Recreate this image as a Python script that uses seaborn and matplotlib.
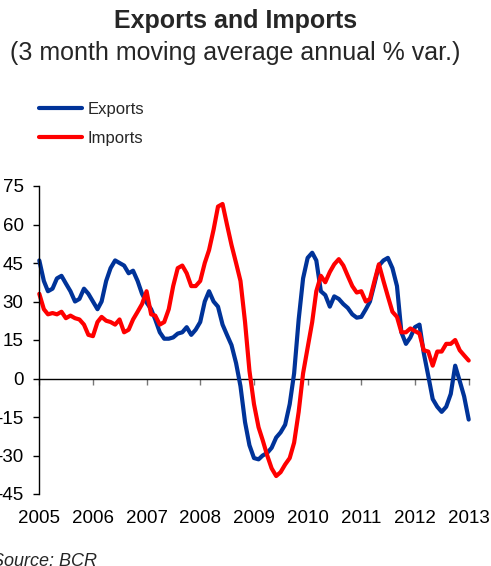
import pandas as pd
import numpy as np
import matplotlib.pyplot as plt
import seaborn as sns

# monthly values, Jan 2005 - Jan 2013
exports = [46, 38, 34, 35, 39, 40, 37, 34, 30, 31, 35, 33,
           30, 27, 30, 38, 43, 46, 45, 44, 41, 42, 38, 33,
           29.6, 27, 23, 18, 15.5, 15.5, 16, 17.5, 18, 20, 17, 19,
           22, 30, 34, 30, 28, 21, 17, 13, 6, -3, -17, -26,
           -31, -31.5, -30, -29, -27, -23, -21, -18, -10, 2, 23, 39,
           47, 49, 46, 34, 32.5, 28, 32, 31, 29, 27.5, 25, 23.7,
           24, 27, 30, 37, 44, 46, 47, 43, 36, 18, 13.5, 16,
           20, 21, 10, 1, -8, -11, -13, -11, -6, 5, -1, -7,
           -16]
imports = [33, 27, 25, 25.5, 25, 26, 23.5, 24.5, 23.5, 23, 21, 17,
           16.5, 22, 24, 22.5, 22, 21, 23, 18, 19, 23, 26, 29,
           34, 25, 24.5, 21, 22, 27, 36, 43, 44, 41, 36, 36,
           38, 45, 50, 58, 67, 68, 60, 52, 45, 38, 22, 3,
           -10, -19, -24, -30, -35, -38, -36.5, -33.5, -31, -25, -13, 2,
           12, 22, 34, 40, 37.5, 41.5, 44.5, 46.5, 44, 40, 36, 33.5,
           34, 30, 31, 38, 44.5, 38, 32, 26, 24, 18, 18, 19.5,
           18.5, 17.5, 11, 10.5, 5, 10.5, 10.5, 13.5, 13.5, 15, 11, 9,
           7]
dates = pd.date_range('2005-01-01', periods=len(exports), freq='MS')
years = [str(y) for y in range(2005, 2014)]

df = pd.DataFrame({'date': list(dates) * 2,
                   'value': exports + imports,
                   'series': ['Exports'] * len(exports) + ['Imports'] * len(imports)})

sns.set_style('white')
plt.rcParams['font.family'] = ['Liberation Sans', 'DejaVu Sans']
plt.rcParams['axes.unicode_minus'] = False

fig = plt.figure(figsize=(4.91, 5.66), dpi=100)
ax = fig.add_axes([39.3 / 491, 1 - 494 / 566, (468.7 - 39.3) / 491, (494 - 186) / 566])

sns.lineplot(data=df, x='date', y='value', hue='series',
             palette={'Exports': '#003399', 'Imports': '#FF0000'},
             linewidth=3, ax=ax, clip_on=False)

year_ticks = pd.to_datetime([y + '-01-01' for y in years])
ax.set_xlim(year_ticks[0], year_ticks[-1])
ax.set_ylim(-45, 75)
ax.set_yticks(np.arange(-45, 76, 15))
ax.set_xticks(year_ticks)
ax.set_xticklabels(years)
ax.set_xlabel('')
ax.set_ylabel('')

for s in ['top', 'right', 'bottom']:
    ax.spines[s].set_visible(False)
ax.spines['left'].set_color('black')
ax.spines['left'].set_linewidth(1)
ax.tick_params(axis='y', direction='out', length=4.3, width=1, color='black',
               pad=7, labelsize=13.5, labelcolor='black', left=True)
ax.tick_params(axis='x', length=0, pad=11.5, labelsize=13.5, labelcolor='black')

# zero line with tick marks
zero_axis = ax.secondary_xaxis(45 / 120)
zero_axis.set_xticks(year_ticks)
zero_axis.set_xticklabels([])
zero_axis.spines['bottom'].set_color('black')
zero_axis.spines['bottom'].set_linewidth(1)
zero_axis.tick_params(direction='out', length=4, width=1, color='#777777')

handles, labels = ax.get_legend_handles_labels()
ax.get_legend().remove()
fig.legend(handles, labels, loc='upper left', bbox_to_anchor=(39 / 491, 1 - 102 / 566),
           frameon=False, fontsize=12, handlelength=2.6, handletextpad=0.3,
           labelspacing=0.85, borderpad=0, borderaxespad=0)

fig.text(0.48, 1 - 21 / 566, 'Exports and Imports', ha='center', va='center',
         fontsize=18, fontweight='bold')
fig.text(0.478, 1 - 53 / 566, '(3 month moving average annual % var.)', ha='center',
         va='center', fontsize=18)
fig.text(-8 / 491, 1 - 561 / 566, 'Source: BCR', ha='left', va='center',
         fontsize=13, fontstyle='italic')

fig.savefig('out.png', dpi=100)
